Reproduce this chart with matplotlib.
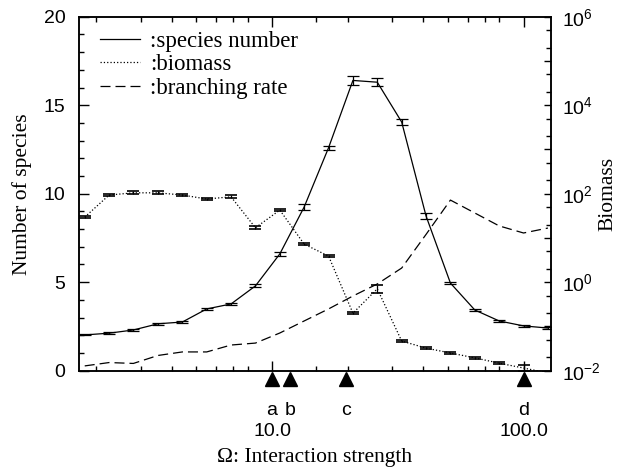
import numpy as np
import matplotlib
matplotlib.use('Agg')
import matplotlib.pyplot as plt
from matplotlib.ticker import FixedLocator, NullFormatter, FixedFormatter
from matplotlib.transforms import blended_transform_factory

plt.rcParams['font.family'] = 'Liberation Sans'
plt.rcParams['mathtext.fontset'] = 'custom'
plt.rcParams['mathtext.rm'] = 'Liberation Sans'
plt.rcParams['mathtext.it'] = 'Liberation Sans'

########### Data ####################################

omega = [1.80, 2.25, 2.81, 3.52, 4.40, 5.50, 6.87, 8.59, 10.74, 13.42,
         16.78, 20.97, 26.21, 32.77, 40.96, 51.2, 64.0, 80.0, 100.0, 125.0]

species = [2.02, 2.12, 2.30, 2.65, 2.75, 3.49, 3.77, 4.79, 6.60, 9.25,
           12.60, 16.40, 16.30, 14.05, 8.74, 4.95, 3.43, 2.81, 2.53, 2.41]
species_err = [0.03, 0.05, 0.07, 0.05, 0.05, 0.08, 0.08, 0.08, 0.10, 0.15,
               0.12, 0.25, 0.22, 0.18, 0.18, 0.06, 0.06, 0.05, 0.05, 0.05]

# log10 of biomass
biomass_log = [1.47, 1.97, 2.02, 2.02, 1.97, 1.88, 1.93, 1.23, 1.63, 0.86,
               0.59, -0.70, -0.15, -1.33, -1.49, -1.60, -1.71, -1.83, -1.94, -2.05]
biomass_err = [0.03, 0.03, 0.03, 0.03, 0.03, 0.03, 0.03, 0.03, 0.03, 0.03,
               0.03, 0.03, 0.09, 0.03, 0.03, 0.03, 0.03, 0.03, 0.06, 0.03]

branching = [0.27, 0.46, 0.41, 0.86, 1.06, 1.06, 1.45, 1.56, 2.13, 2.81,
             3.49, 4.22, 4.90, 5.80, 7.70, 9.64, 8.91, 8.18, 7.78, 8.06]

marks = [10.0, 11.8, 19.7, 100.0]
mark_labels = ['a', 'b', 'c', 'd']

############ Plot ##############

fig = plt.figure(figsize=(6.3, 4.75), dpi=100)
ax = fig.add_axes([0.1259, 0.2196, 0.7482, 0.7452])
ax2 = ax.twinx()

bio = 10 ** np.array(biomass_log)
bio_lo = bio - 10 ** (np.array(biomass_log) - np.array(biomass_err))
bio_hi = 10 ** (np.array(biomass_log) + np.array(biomass_err)) - bio

l1 = ax.errorbar(omega, species, yerr=species_err, fmt='-', color='black',
                 lw=0.9, elinewidth=0.9, capsize=4.3, capthick=0.9)
l3, = ax.plot(omega, branching, color='black', lw=0.9, dashes=(8, 4))
l2 = ax2.errorbar(omega, bio, yerr=[bio_lo, bio_hi], fmt=':', color='black',
                  lw=0.9, elinewidth=0.9, capsize=4.3, capthick=1.2)

ax.set_xscale('log')
ax.set_xlim(1.713, 128.2)
ax.set_ylim(0, 20)
ax2.set_yscale('log')
ax2.set_ylim(1e-2, 1e6)

# x ticks
ax.xaxis.set_major_locator(FixedLocator([10, 100]))
ax.xaxis.set_major_formatter(FixedFormatter(['10.0', '100.0']))
ax.xaxis.set_minor_locator(FixedLocator([2, 3, 4, 5, 6, 7, 8, 15, 20, 30, 40, 50, 60, 70, 80]))
ax.xaxis.set_minor_formatter(NullFormatter())
ax.tick_params(axis='x', which='both', direction='in', top=True, labelsize=14)
ax.tick_params(axis='x', which='major', length=7, width=1, pad=38)
ax.tick_params(axis='x', which='minor', length=3.5, width=1)

# left y ticks
ax.set_yticks([0, 5, 10, 15, 20])
ax.set_yticks(np.arange(0, 21, 1), minor=True)
ax.tick_params(axis='y', which='both', direction='in', labelsize=14, right=False)
ax.tick_params(axis='y', which='major', length=7, width=1, pad=10)
ax.tick_params(axis='y', which='minor', length=3.5, width=1)

# right y ticks
decades = [10.0 ** k for k in range(-2, 7)]
ax2.yaxis.set_major_locator(FixedLocator(decades))
ax2.yaxis.set_major_formatter(FixedFormatter(
    [r'$\mathregular{10^{%d}}$' % k if k % 2 == 0 else '' for k in range(-2, 7)]))
minors = [m * 10.0 ** k for k in range(-2, 6) for m in (2, 5)]
ax2.yaxis.set_minor_locator(FixedLocator(minors))
ax2.yaxis.set_minor_formatter(NullFormatter())
ax2.tick_params(axis='y', which='both', direction='in', labelsize=14)
ax2.tick_params(axis='y', which='major', length=5, width=1, pad=8)
ax2.tick_params(axis='y', which='minor', length=3.5, width=1)

for a in (ax, ax2):
    for s in a.spines.values():
        s.set_linewidth(1.1)

# triangles and letters under the axis
trans = blended_transform_factory(ax.transData, ax.transAxes)
ax.plot(marks, [-0.0226] * len(marks), '^', color='black', markersize=10,
        transform=trans, clip_on=False)
for m, lab in zip(marks, mark_labels):
    ax.text(m, -0.125, lab, transform=trans, ha='center', va='baseline', fontsize=14)

serif = 'Liberation Serif'
ax.text(0.5, -0.258, u'\u03a9: Interaction strength', transform=ax.transAxes,
        ha='center', va='baseline', fontsize=15.5, family=serif)
fig.text(22 / 630, 1 - 194 / 475, 'Number of species', rotation=90,
         ha='center', va='center', fontsize=15.5, family=serif)
fig.text(608 / 630, 1 - 194 / 475, 'Biomass', rotation=90,
         ha='center', va='center', fontsize=15.5, family=serif)

ax2.legend([l1.lines[0], l2.lines[0], l3],
           [':species number', ':biomass', ':branching rate'],
           loc='upper left', bbox_to_anchor=(0.044, 0.96), frameon=False,
           borderpad=0, borderaxespad=0, handlelength=1.75, handletextpad=0.45,
           labelspacing=0.1, prop={'family': serif, 'size': 16.5})

fig.savefig('out.png', dpi=100)
